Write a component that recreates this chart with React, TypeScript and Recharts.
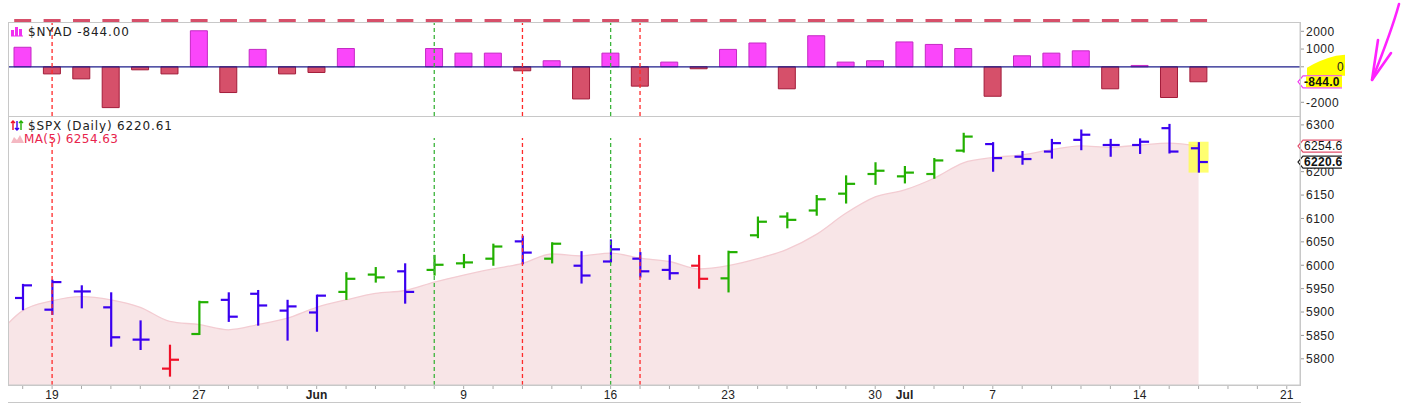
import React from 'react';
import {
  ComposedChart,
  Bar,
  Area,
  Scatter,
  XAxis,
  YAxis,
  ReferenceLine,
  ReferenceArea,
  Cell,
} from 'recharts';

// trading days, first one (May 15) only feeds the MA line entering from the left edge
const days = [
  '05-15', '05-16', '05-19', '05-20', '05-21', '05-22', '05-23', '05-27', '05-28', '05-29', '05-30',
  '06-02', '06-03', '06-04', '06-05', '06-06', '06-09', '06-10', '06-11', '06-12', '06-13',
  '06-16', '06-17', '06-18', '06-20', '06-23', '06-24', '06-25', '06-26', '06-27', '06-30',
  '07-01', '07-02', '07-03', '07-07', '07-08', '07-09', '07-10', '07-11', '07-14', '07-15', '07-16',
];
const futureDays = ['07-17', '07-18', '07-21'];

const opens = [
  5930, 5905, 5944, 5910, 5841, 5779, 5853, 5926, 5939, 5903, 5899, 5943, 5980, 5987, 5990, 6004,
  6014, 6051, 6014, 5999, 6008, 6014, 5990, 5999, 5972, 6064, 6104, 6117, 6153, 6195, 6190, 6195,
  6245, 6259, 6232, 6243, 6268, 6257, 6257, 6293, 6250,
];
const highs = [
  5958, 5967, 5955, 5940, 5880, 5828, 5922, 5940, 5945, 5924, 5935, 5983, 5994, 6002, 6020, 6022,
  6044, 6061, 6047, 6028, 6053, 6026, 6020, 6020, 6029, 6102, 6111, 6148, 6190, 6218, 6210, 6227,
  6281, 6261, 6242, 6268, 6288, 6268, 6269, 6300, 6261,
];
const lows = [
  5906, 5896, 5910, 5828, 5821, 5764, 5853, 5881, 5873, 5841, 5860, 5928, 5965, 5920, 5980, 5996,
  6001, 6004, 6006, 5963, 6008, 5976, 5971, 5952, 5944, 6060, 6081, 6108, 6134, 6174, 6177, 6187,
  6243, 6202, 6217, 6230, 6248, 6234, 6240, 6241, 6200,
];
const closes = [
  5957, 5964, 5944, 5846, 5841, 5798, 5921, 5890, 5914, 5912, 5935, 5971, 5974, 5943, 6001, 6006,
  6040, 6027, 6046, 5978, 6034, 5987, 5983, 5971, 6028, 6093, 6097, 6141, 6174, 6202, 6198, 6224,
  6275, 6229, 6227, 6261, 6279, 6257, 6264, 6243, 6220.61,
];
// impulse colouring of each price bar: g = green, r = red, b = blue
const impulse = [
  'b', 'b', 'b', 'b', 'b', 'r', 'g', 'b', 'b', 'b', 'b', 'g', 'g', 'b', 'g', 'g', 'g', 'b', 'g', 'b',
  'b', 'b', 'b', 'r', 'g', 'g', 'g', 'g', 'g', 'g', 'g', 'g', 'g', 'b', 'b', 'b', 'b', 'b', 'b', 'b', 'b',
];
const ma5 = [
  5841, 5903, 5924, 5933, 5926, 5910, 5880, 5873, 5862, 5873, 5887, 5910, 5926, 5940, 5946, 5964,
  5979, 5992, 6004, 6024, 6020, 6026, 6015, 6008, 5992, 5999, 6014, 6034, 6066, 6111, 6146, 6161,
  6186, 6219, 6230, 6236, 6247, 6255, 6252, 6257, 6261, 6254.63,
];
const nyad = [
  1100, -400, -680, -2300, -170, -400, 2030, -1450, 980, -400, -320, 1030, null, null, 1030, 770,
  770, -225, 340, -1810, 770, -1090, 265, -110, 980, 1340, -1240, 1750, 265, 340, 1400, 1260, 1030,
  -1660, 620, 770, 900, -1240, 75, -1730, -844,
];

const redSignals = ['05-19', '06-11', '06-17'];
const greenSignals = ['06-06', '06-16'];

const xTickLabels: [string, string][] = [
  ['05-19', '19'], ['05-27', '27'], ['06-02', 'Jun'], ['06-09', '9'], ['06-16', '16'],
  ['06-23', '23'], ['06-30', '30'], ['07-01', 'Jul'], ['07-07', '7'], ['07-14', '14'], ['07-21', '21'],
];
const monthLabels = ['Jun', 'Jul'];
const spxTicks = [5800, 5850, 5900, 5950, 6000, 6050, 6100, 6150, 6200, 6300];
const nyadTicks = [-2000, 1000, 2000, 0];

const W = 1401;
const X_DOMAIN: [number, number] = [-0.5, 43.45];
const SPX_DOMAIN: [number, number] = [5744, 6319];
const NYAD_DOMAIN: [number, number] = [-2772, 2524];

const colors = {
  g: '#22b000',
  r: '#f01028',
  b: '#3a00f0',
  up: '#fa46fa',
  upEdge: '#c42ac4',
  down: '#d6506a',
  downEdge: '#a21c3a',
  frame: '#c8c8c8',
  ma: '#f8e5e7',
  maLine: '#f3ccd2',
};

const tradingDays = days.slice(1);
const axisDays = [...tradingDays, ...futureDays];
const lastClose = closes[closes.length - 1];
const lastMa = ma5[ma5.length - 1];
const lastNyad = nyad[nyad.length - 1] as number;
const lastIdx = tradingDays.length - 1;

const spxRows = days.map((d, k) => ({
  i: k - 1,
  day: d,
  ma: ma5[k],
  o: k > 0 ? opens[k - 1] : null,
  h: k > 0 ? highs[k - 1] : null,
  l: k > 0 ? lows[k - 1] : null,
  c: k > 0 ? closes[k - 1] : null,
  color: k > 0 ? colors[impulse[k - 1] as 'g' | 'r' | 'b'] : null,
}));

const nyadRows = tradingDays.map((d, k) => ({ i: k, day: d, nyad: nyad[k], cap: NYAD_DOMAIN[1] }));

const axisFont = { fontFamily: '"Liberation Sans", Arial, sans-serif', fontSize: 12, letterSpacing: 0.5 };
const labelFont = { fontFamily: '"DejaVu Sans", Verdana, sans-serif', fontSize: 12, letterSpacing: 0.85 };

const OhlcShape = (props: any) => {
  const { x, y, width, height, payload } = props;
  if (!payload || payload.h == null) return null;
  const top = Math.min(y, y + height);
  const bottom = Math.max(y, y + height);
  const cx = x + width / 2;
  const py = (v: number) => top + ((payload.h - v) / (payload.h - payload.l)) * (bottom - top);
  return (
    <g stroke={payload.color} strokeWidth={2.2} fill="none">
      <line x1={cx} y1={top - 1} x2={cx} y2={bottom + 1} />
      <line x1={cx - 8} y1={py(payload.o)} x2={cx} y2={py(payload.o)} />
      <line x1={cx} y1={py(payload.c)} x2={cx + 9} y2={py(payload.c)} />
    </g>
  );
};

// little marker dash sitting on the top edge of the breadth panel
const CapShape = (props: any) => (
  <rect x={props.cx - 8.5} y={props.cy - 3} width={17} height={3} fill={colors.down} />
);

const Tag = ({ ax, cy, stroke, text, bold, highlight }: any) => (
  <g>
    <path
      d={`M${ax + 42} ${cy - 6} L${ax + 3} ${cy - 6} L${ax - 2} ${cy} L${ax + 3} ${cy + 6} L${ax + 42} ${cy + 6}`}
      fill="#fff"
      stroke={stroke}
      strokeWidth={1.2}
    />
    {highlight && <rect x={ax + 6} y={cy - 5.4} width={36} height={10.8} fill="#ffff00" />}
    <text x={ax + 4} y={cy + 4.3} {...axisFont} letterSpacing={0.3} fontWeight={bold ? 700 : 400} fill="#111">
      {text}
    </text>
  </g>
);

const SpxTick = (props: any) => {
  const { x, y, payload } = props;
  const ax = x - 6;
  const v = payload.value;
  if (v === lastMa) return <Tag ax={ax} cy={y} stroke="#e2506c" text={v.toFixed(1)} />;
  if (v === lastClose) return <Tag ax={ax} cy={y} stroke="#222" text={v.toFixed(1)} bold />;
  return (
    <text x={x} y={y + 4.3} {...axisFont} fill="#222">
      {v}
    </text>
  );
};

const NyadTick = (props: any) => {
  const { x, y, payload } = props;
  const ax = x - 6;
  const v = payload.value;
  if (v === lastNyad) return <Tag ax={ax} cy={y} stroke="#f040f0" text={v.toFixed(1)} bold highlight />;
  return (
    <g>
      {v === 0 && (
        <path d={`M${ax + 7} ${y + 9} L${ax + 7} ${y + 1} Q${ax + 20} ${y - 7} ${ax + 36} ${y - 11} L${ax + 45} ${y - 12} L${ax + 45} ${y + 9} Z`} fill="#ffff00" />
      )}
      <text x={v === 0 ? ax + 37 : x} y={y + 4.3} {...axisFont} fill="#222">
        {v}
      </text>
    </g>
  );
};

const DateTick = (props: any) => {
  const { x, y, payload } = props;
  const hit = xTickLabels.find(([d]) => d === axisDays[payload.value]);
  if (!hit) return null;
  return (
    <text
      x={x}
      y={y + 7.5}
      textAnchor="middle"
      {...axisFont}
      letterSpacing={0.2}
      fontWeight={monthLabels.includes(hit[1]) ? 700 : 400}
      fill="#222"
    >
      {hit[1]}
    </text>
  );
};

const longDash = (color: string, extra: number) => (p: any) => (
  <line x1={p.x1} y1={p.y1} x2={p.x2} y2={p.y2 + extra} stroke={color} strokeWidth={1.3} strokeDasharray="4 3" />
);

const signalLines = (extra: number) => [
  ...redSignals.map((d) => (
    <ReferenceLine key={'r' + d} x={axisDays.indexOf(d)} stroke="#ff2a2a" shape={longDash('#ff2a2a', extra)} />
  )),
  ...greenSignals.map((d) => (
    <ReferenceLine key={'g' + d} x={axisDays.indexOf(d)} stroke="#3cb43c" shape={longDash('#3cb43c', extra)} />
  )),
];

const xTicks = axisDays.map((_, k) => k);

export default function App() {
  return (
    <div style={{ position: 'absolute', left: 0, top: 0, width: W, height: 407, background: '#fff', overflow: 'hidden' }}>
      <div style={{ position: 'absolute', left: 0, top: 0 }}>
        <ComposedChart width={W} height={116} data={nyadRows} margin={{ top: 22, right: 60, bottom: 0, left: 8 }}>
          <XAxis dataKey="i" type="number" domain={X_DOMAIN} hide />
          <YAxis
            orientation="right"
            width={41}
            type="number"
            domain={NYAD_DOMAIN}
            ticks={[...nyadTicks, lastNyad]}
            interval={0}
            tick={NyadTick}
            tickSize={4}
            tickMargin={2}
            axisLine={{ stroke: colors.frame }}
            tickLine={{ stroke: '#999' }}
          />
          <ReferenceLine y={0} stroke="#1c1c8a" strokeWidth={1.3} />
          <Bar dataKey="nyad" barSize={17} isAnimationActive={false}>
            {nyadRows.map((r) => (
              <Cell
                key={r.day}
                fill={(r.nyad ?? 0) >= 0 ? colors.up : colors.down}
                stroke={(r.nyad ?? 0) >= 0 ? colors.upEdge : colors.downEdge}
                strokeWidth={1}
              />
            ))}
          </Bar>
          {signalLines(0)}
          <Scatter dataKey="cap" shape={CapShape} isAnimationActive={false} />
        </ComposedChart>
      </div>

      <div style={{ position: 'absolute', left: 0, top: 116 }}>
        <ComposedChart width={W} height={291} data={spxRows} margin={{ top: 0, right: 60, bottom: 2, left: 8 }}>
          <XAxis
            dataKey="i"
            type="number"
            domain={X_DOMAIN}
            allowDataOverflow
            ticks={xTicks}
            interval={0}
            height={20}
            tick={DateTick}
            tickSize={4}
            tickMargin={2}
            axisLine={{ stroke: colors.frame }}
            tickLine={{ stroke: '#aaa' }}
          />
          <YAxis
            orientation="right"
            width={41}
            type="number"
            domain={SPX_DOMAIN}
            allowDataOverflow
            ticks={[...spxTicks, lastMa, lastClose]}
            interval={0}
            tick={SpxTick}
            tickSize={4}
            tickMargin={2}
            axisLine={{ stroke: colors.frame }}
            tickLine={{ stroke: '#999' }}
          />
          <Area
            dataKey="ma"
            type="monotone"
            stroke={colors.maLine}
            strokeWidth={1.3}
            fill={colors.ma}
            fillOpacity={1}
            dot={false}
            activeDot={false}
            isAnimationActive={false}
          />
          <ReferenceArea
            x1={lastIdx - 0.34}
            x2={lastIdx + 0.34}
            y1={lows[lastIdx] - 2}
            y2={highs[lastIdx] + 3}
            fill="#ffff40"
            fillOpacity={0.75}
            stroke="none"
          />
          {signalLines(22)}
          <Bar
            dataKey={(r: any) => (r.h == null ? null : [r.l, r.h])}
            barSize={18}
            shape={OhlcShape}
            isAnimationActive={false}
          />
        </ComposedChart>
      </div>

      {/* panel frames */}
      <div style={{ position: 'absolute', left: 8, top: 22, width: 1293, height: 95, boxSizing: 'border-box', border: `1px solid ${colors.frame}`, pointerEvents: 'none' }} />
      <div style={{ position: 'absolute', left: 8, top: 116, width: 1293, height: 270, boxSizing: 'border-box', border: `1px solid ${colors.frame}`, pointerEvents: 'none' }} />
      <div style={{ position: 'absolute', left: 8, top: 402, width: 1293, height: 1, background: colors.frame }} />

      <svg width={W} height={407} style={{ position: 'absolute', left: 0, top: 0, pointerEvents: 'none' }}>
        {/* NYAD legend */}
        <g fill="#f030f0">
          <rect x={11} y={30} width={3} height={6} />
          <rect x={15} y={27} width={3} height={9} />
          <rect x={19} y={29} width={3} height={7} />
          <rect x={11} y={35.5} width={12} height={1} />
        </g>
        <text x={28} y={36} {...labelFont} fill="#222">
          {`$NYAD ${lastNyad.toFixed(2)}`}
        </text>

        {/* SPX legend */}
        <g strokeWidth={1.4} fill="none">
          <path d="M13 121 L13 130 M11 123 L13 121 L15 123" stroke={colors.r} />
          <path d="M17 121 L17 130 M15 128 L17 130 L19 128" stroke={colors.b} />
          <path d="M21 121 L21 130 M19 123 L21 121 L23 123" stroke={colors.g} />
        </g>
        <text x={28} y={130} {...labelFont} fill="#222">
          {`$SPX (Daily) ${lastClose.toFixed(2)}`}
        </text>
        <path d="M11 143 L14 137 L17 140 L20 135 L24 143 Z" fill="#f4b8c2" />
        <text x={24} y={143} {...labelFont} letterSpacing={0.4} fill="#e8244c">
          {`MA(5) ${lastMa.toFixed(2)}`}
        </text>

        {/* hand drawn arrow */}
        <g stroke="#ff22ff" strokeWidth={2.6} fill="none" strokeLinecap="round">
          <path d="M1399 4 C1392 30 1382 55 1372 80" />
          <path d="M1378 40 L1372 80 L1391 53" />
        </g>
      </svg>
    </div>
  );
}
